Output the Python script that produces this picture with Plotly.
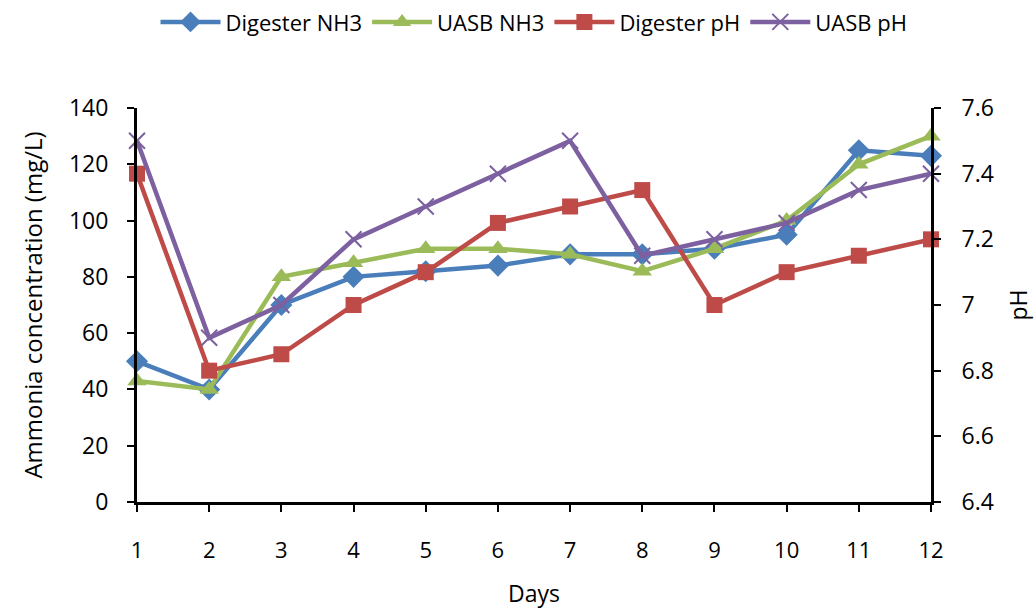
import plotly.graph_objects as go

days = list(range(1, 13))
digester_nh3 = [50, 40, 70, 80, 82, 84, 88, 88, 90, 95, 125, 123]
uasb_nh3 = [43, 40, 80, 85, 90, 90, 88, 82, 90, 100, 120, 130]
digester_ph = [7.4, 6.8, 6.85, 7.0, 7.1, 7.25, 7.3, 7.35, 7.0, 7.1, 7.15, 7.2]
uasb_ph = [7.5, 6.9, 7.0, 7.2, 7.3, 7.4, 7.5, 7.15, 7.2, 7.25, 7.35, 7.4]

FONT = "Open Sans"
fig = go.Figure()
fig.add_trace(go.Scatter(x=days, y=digester_nh3, name="Digester NH3", mode="lines+markers",
                         line=dict(color="#4A7EBB", width=4.5),
                         marker=dict(symbol="diamond", size=17, color="#4A7EBB"), cliponaxis=False))
fig.add_trace(go.Scatter(x=days, y=uasb_nh3, name="UASB NH3", mode="lines+markers",
                         line=dict(color="#9BBB59", width=4.5),
                         marker=dict(symbol="triangle-up", size=17, color="#9BBB59"), cliponaxis=False))
fig.add_trace(go.Scatter(x=days, y=digester_ph, name="Digester pH", mode="lines+markers",
                         line=dict(color="#BE4B48", width=4.5),
                         marker=dict(symbol="square", size=16, color="#BE4B48"),
                         yaxis="y2", cliponaxis=False))
fig.add_trace(go.Scatter(x=days, y=uasb_ph, name="UASB pH", mode="lines+markers",
                         line=dict(color="#7D60A0", width=4.5),
                         marker=dict(symbol="x-thin", size=16, line=dict(color="#7D60A0", width=2)),
                         yaxis="y2", cliponaxis=False))

fig.update_layout(
    width=1034, height=609,
    margin=dict(l=137, r=103, t=108, b=107, autoexpand=False),
    paper_bgcolor="white", plot_bgcolor="white",
    font=dict(family=FONT, size=23, color="black"),
    showlegend=True,
    legend=dict(orientation="h", x=0.5, xanchor="center", y=1.218, yanchor="middle",
                font=dict(size=22), itemwidth=60, tracegroupgap=0),
    xaxis=dict(range=[1, 12], dtick=1, showline=True, linecolor="black", linewidth=3,
               ticks="outside", ticklen=7, tickwidth=2, tickcolor="black", showgrid=False,
               zeroline=False, ticklabelstandoff=20, tickfont=dict(size=22),
               title=dict(text="Days", font=dict(size=23), standoff=24)),
    yaxis=dict(range=[0, 140], dtick=20, showline=True, linecolor="black", linewidth=3,
               ticks="outside", ticklen=7, tickwidth=2, tickcolor="black", showgrid=False,
               zeroline=False, ticklabelstandoff=14, tickfont=dict(size=23),
               title=dict(text="Ammonia concentration (mg/L)", font=dict(size=24), standoff=20)),
    yaxis2=dict(range=[6.4, 7.6], dtick=0.2, overlaying="y", side="right", showline=True,
                linecolor="black", linewidth=3, ticks="outside", ticklen=7, tickwidth=2,
                tickcolor="black", showgrid=False, zeroline=False, ticklabelstandoff=16,
                tickfont=dict(size=23),
                title=dict(text="pH", font=dict(size=23), standoff=18)),
)
fig.write_html("out.html")
